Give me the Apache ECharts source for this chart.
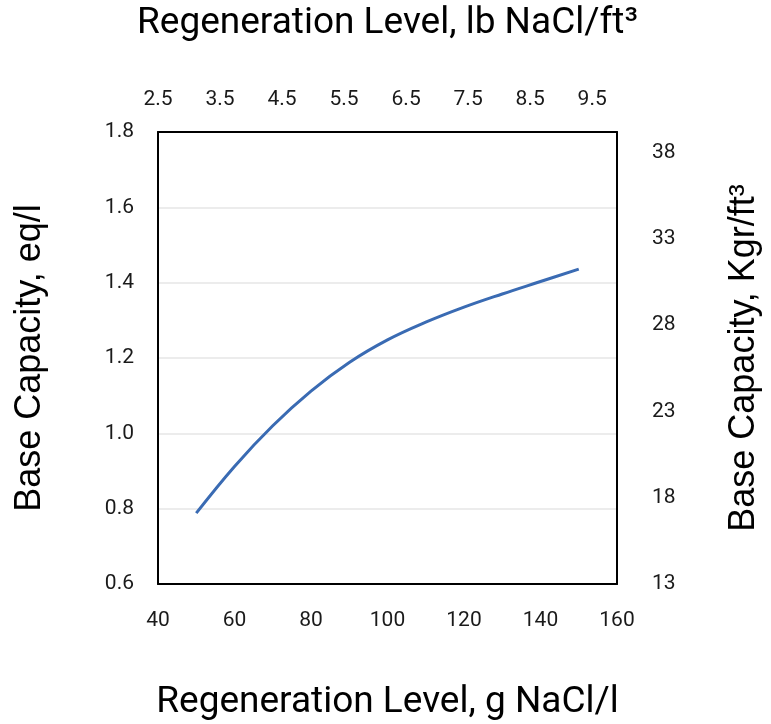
<!DOCTYPE html>
<html>
<head>
<meta charset="utf-8">
<script src="https://cdn.jsdelivr.net/npm/echarts@6/dist/echarts.min.js"></script>
<style>
html,body{margin:0;padding:0;background:#fff;}
#chart{width:771px;height:724px;}
</style>
</head>
<body>
<div id="chart"></div>
<script>
// Data
const regenGperL = [50, 60, 70, 80, 90, 100, 110, 120, 130, 140, 150];
const baseCapacityEqPerL = [0.788, 0.912, 1.020, 1.112, 1.188, 1.248, 1.295, 1.335, 1.370, 1.403, 1.436];

const bottomAxis = { min: 40, max: 160, interval: 20 };
const topAxis = { min: 2.5, max: 9.9, interval: 1 };
const leftAxis = { min: 0.6, max: 1.8, interval: 0.2 };
const rightAxis = { min: 13, max: 39.2, interval: 5 };

const titleTop = 'Regeneration Level, lb NaCl/ft³';
const titleBottom = 'Regeneration Level, g NaCl/l';
const titleLeft = 'Base Capacity, eq/l';
const titleRight = 'Base Capacity, Kgr/ft³';

const chart = echarts.init(document.getElementById('chart'), null, { renderer: 'canvas' });

const labelFont = { fontFamily: 'Roboto', fontSize: 21, color: '#1a1a1a' };
const lineStyle = { color: '#000', width: 2 };

const seriesData = regenGperL.map((x, i) => [x, baseCapacityEqPerL[i]]);

chart.setOption({
  animation: false,
  backgroundColor: '#fff',
  grid: { left: 158, right: 154, top: 132, bottom: 140, containLabel: false, outerBoundsMode: 'none' },
  xAxis: [
    {
      type: 'value', position: 'bottom',
      min: bottomAxis.min, max: bottomAxis.max, interval: bottomAxis.interval,
      axisLine: { show: true, onZero: false, lineStyle },
      axisTick: { show: false },
      splitLine: { show: false },
      axisLabel: Object.assign({ margin: 26 }, labelFont),
      name: titleBottom, nameLocation: 'middle', nameGap: 119,
      nameTextStyle: { fontFamily: 'Roboto', fontSize: 37, color: '#000', verticalAlign: 'middle' }
    },
    {
      type: 'value', position: 'top',
      min: topAxis.min, max: topAxis.max, interval: topAxis.interval,
      axisLine: { show: true, onZero: false, lineStyle },
      axisTick: { show: false },
      splitLine: { show: false },
      axisLabel: Object.assign({ margin: 22, showMaxLabel: false, formatter: v => v.toFixed(1) }, labelFont),
      name: titleTop, nameLocation: 'middle', nameGap: 108,
      nameTextStyle: { fontFamily: 'Roboto', fontSize: 37, color: '#000', verticalAlign: 'middle' }
    }
  ],
  yAxis: [
    {
      type: 'value', position: 'left',
      min: leftAxis.min, max: leftAxis.max, interval: leftAxis.interval,
      axisLine: { show: true, onZero: false, lineStyle },
      axisTick: { show: false },
      splitLine: { show: true, lineStyle: { color: '#e6e6e6', width: 1.5 } },
      axisLabel: Object.assign({ margin: 24, formatter: v => v.toFixed(1) }, labelFont),
      name: titleLeft, nameLocation: 'middle', nameGap: 128, nameRotate: 90,
      nameTextStyle: { fontFamily: 'Liberation Sans', fontSize: 36, color: '#000', verticalAlign: 'middle' }
    },
    {
      type: 'value', position: 'right',
      min: rightAxis.min, max: rightAxis.max, interval: rightAxis.interval,
      axisLine: { show: true, onZero: false, lineStyle },
      axisTick: { show: false },
      splitLine: { show: false },
      axisLabel: Object.assign({ margin: 35, showMaxLabel: false }, labelFont),
      name: titleRight, nameLocation: 'middle', nameGap: 127, nameRotate: 90,
      nameTextStyle: { fontFamily: 'Liberation Sans', fontSize: 36, color: '#000', verticalAlign: 'middle' }
    }
  ],
  series: [
    {
      type: 'line',
      xAxisIndex: 0, yAxisIndex: 0,
      data: seriesData,
      smooth: 0.4,
      showSymbol: false,
      lineStyle: { color: '#3a6bb3', width: 3 }
    }
  ]
});
</script>
</body>
</html>
